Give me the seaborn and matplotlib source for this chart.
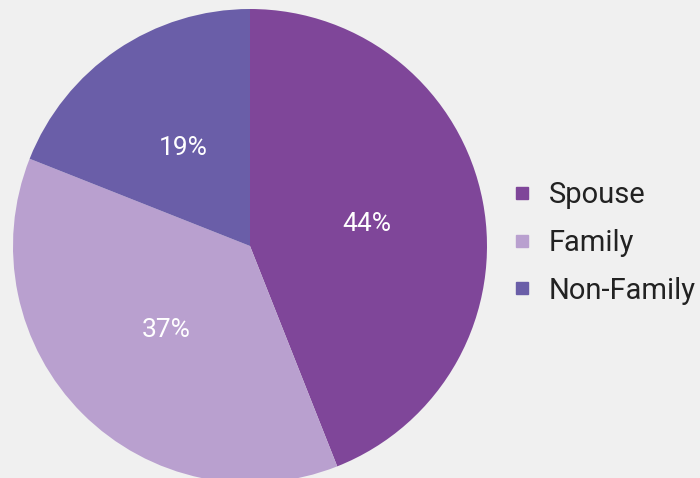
import matplotlib
matplotlib.use("Agg")
import matplotlib.pyplot as plt
import seaborn as sns
from matplotlib.lines import Line2D

# data
categories = ["Spouse", "Family", "Non-Family"]
shares = [44, 37, 19]
colors = ["#7f4699", "#b9a0cf", "#6a5ea8"]

BG = "#f0f0f0"

sns.set_style("white")
plt.rcParams['font.family'] = ['Roboto', 'DejaVu Sans']

palette = sns.color_palette(colors)

fig = plt.figure(figsize=(7, 4.78), dpi=100, facecolor=BG)
ax = fig.add_axes([13 / 700, -5 / 478, 474 / 700, 474 / 478])
ax.set_facecolor(BG)

wedges, texts, autotexts = ax.pie(
    shares, colors=palette, startangle=90, counterclock=False,
    autopct=lambda p: f"{p:.0f}%", pctdistance=0.5,
    wedgeprops=dict(linewidth=0, antialiased=True),
    textprops=dict(color="white", fontsize=19),
)
ax.set_xlim(-1, 1)
ax.set_ylim(-1, 1)
ax.set_aspect("equal")
ax.axis("off")

handles = [Line2D([0], [0], marker="s", linestyle="none", markersize=8,
                  markerfacecolor=c, markeredgecolor=c) for c in palette]
fig.legend(handles, categories, loc="center left", bbox_to_anchor=(514.7 / 700, 1 - 243 / 478),
           frameon=False, fontsize=21, labelcolor="#222222", handlelength=0.5,
           handletextpad=0.67, labelspacing=0.675, borderpad=0, borderaxespad=0)

fig.savefig("out.png", dpi=100, facecolor=BG)
